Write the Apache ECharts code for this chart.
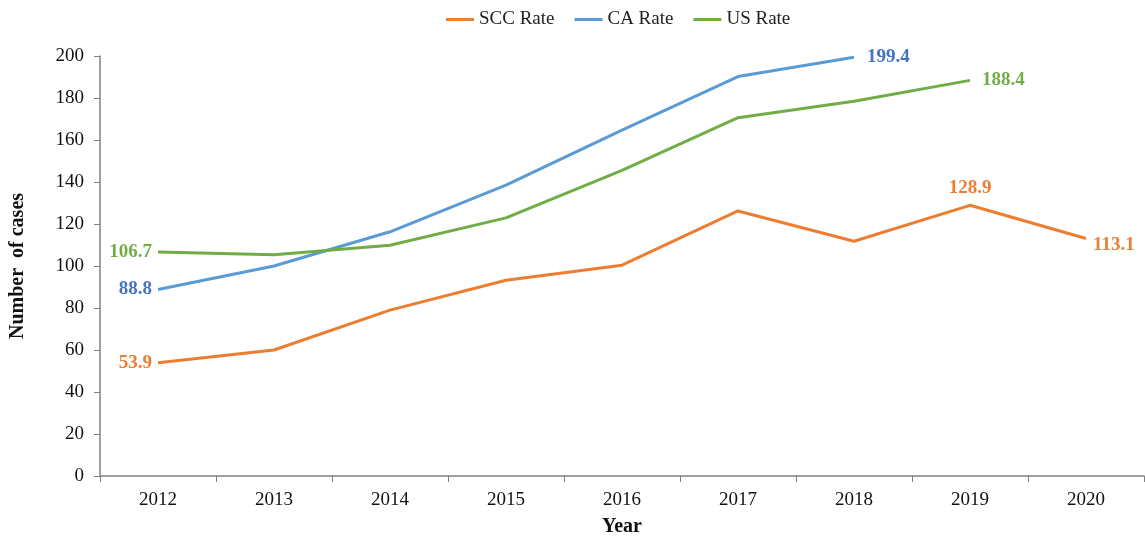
<!DOCTYPE html>
<html>
<head>
    <meta charset="utf-8">
    <title>Rates</title>
    <script src="https://cdn.jsdelivr.net/npm/echarts@6/dist/echarts.min.js"></script>
</head>
<body style="margin:0">
    <div id="main" style="width: 1145px;height:536px;"></div>
    <script type="text/javascript">
    var years = ['2012', '2013', '2014', '2015', '2016', '2017', '2018', '2019', '2020'];
    var sccRate = [53.9, 60.0, 79.0, 93.2, 100.4, 126.2, 111.8, 128.9, 113.1];
    var caRate = [88.8, 100.0, 116.3, 138.5, 164.7, 190.2, 199.4];
    var usRate = [106.7, 105.4, 109.9, 122.9, 145.5, 170.6, 178.5, 188.4];

    var serif = "'Liberation Serif', 'Times New Roman', serif";

    // 首尾点加标签
    function withLabels(arr, color, endDist, endOffset, extra) {
        return arr.map(function (v, i) {
            var item = { value: v };
            var lab = { show: true, color: color, fontWeight: 'bold', fontSize: 19, fontFamily: serif };
            if (i === 0) {
                lab.position = 'left'; lab.distance = 6;
                item.label = lab;
            } else if (i === arr.length - 1) {
                lab.position = 'right'; lab.distance = endDist;
                if (endOffset) lab.offset = endOffset;
                item.label = lab;
            } else if (extra && extra[i]) {
                lab.position = extra[i]; lab.distance = 8;
                item.label = lab;
            }
            return item;
        });
    }

    var myChart = echarts.init(document.getElementById('main'));
    var option = {
        animation: false,
        legend: {
            top: 5,
            left: 441,
            itemWidth: 28,
            itemHeight: 3,
            itemGap: 20,
            icon: 'rect',
            textStyle: { fontFamily: serif, fontSize: 19, color: '#222' },
            data: ['SCC Rate', 'CA Rate', 'US Rate']
        },
        grid: { left: 100, right: 1, top: 56, bottom: 60, containLabel: false, outerBoundsMode: 'none' },
        xAxis: {
            type: 'category',
            data: years,
            boundaryGap: true,
            name: 'Year',
            nameLocation: 'middle',
            nameGap: 41,
            nameTextStyle: { fontFamily: serif, fontSize: 20, fontWeight: 'bold', color: '#111' },
            axisLine: { lineStyle: { color: '#808080', width: 1.5 } },
            axisTick: { show: true, length: 6, lineStyle: { color: '#808080' } },
            axisLabel: { fontFamily: serif, fontSize: 19, color: '#111', margin: 15 }
        },
        yAxis: {
            type: 'value',
            min: 0,
            max: 200,
            interval: 20,
            name: 'Number  of cases',
            nameLocation: 'middle',
            nameGap: 72,
            nameTextStyle: { fontFamily: serif, fontSize: 20, fontWeight: 'bold', color: '#111' },
            axisLine: { show: true, lineStyle: { color: '#808080', width: 1.5 } },
            axisTick: { show: true, length: 6, lineStyle: { color: '#808080' } },
            axisLabel: { fontFamily: serif, fontSize: 19, color: '#111', margin: 16 },
            splitLine: { show: false }
        },
        series: [
            {
                name: 'SCC Rate', type: 'line', symbol: 'circle', symbolSize: 0, color: '#ED7D31',
                lineStyle: { width: 3 },
                data: withLabels(sccRate, '#ED7D31', 7, [0, 7], { 7: 'top' })
            },
            {
                name: 'CA Rate', type: 'line', symbol: 'circle', symbolSize: 0, color: '#5B9BD5',
                lineStyle: { width: 3 },
                data: withLabels(caRate, '#4472C4', 13)
            },
            {
                name: 'US Rate', type: 'line', symbol: 'circle', symbolSize: 0, color: '#70AD47',
                lineStyle: { width: 3 },
                data: withLabels(usRate, '#70AD47', 12)
            }
        ]
    };
    myChart.setOption(option);
    </script>
</body>
</html>
